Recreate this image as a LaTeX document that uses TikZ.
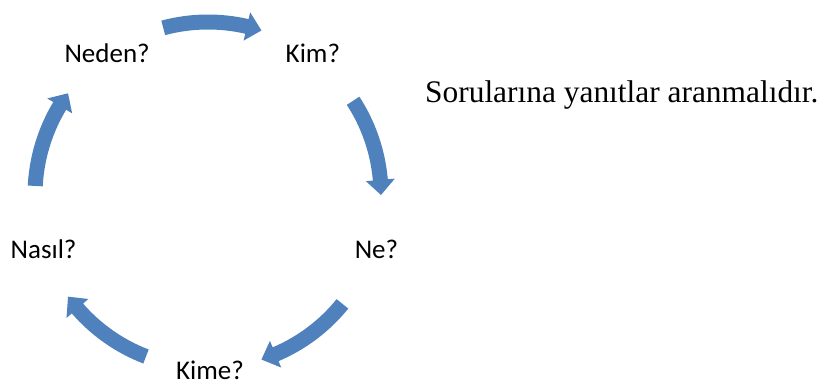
\documentclass[tikz,border=0pt]{standalone}
\usepackage{fontspec}
\setmainfont{Liberation Serif}
\newfontfamily\calibri{Carlito}
\definecolor{cycblue}{RGB}{79,129,189}
\tikzset{
  lbl/.style={font=\calibri\fontsize{27}{30}\selectfont, inner sep=0pt},
  cycarrow/.style={fill=cycblue, draw=none}
}
\begin{document}
\begin{tikzpicture}[x=1pt, y=1pt]
\useasboundingbox (0,0) rectangle (828,385);
\coordinate (o) at (210,190);
\coordinate (c) at (208,190);

\foreach \a/\t/\n in {54/Kim?/kim, -18/Ne?/ne, -90/Kime?/kime, 198/Nasıl?/nasil, 126/Neden?/neden}
{
    \node[lbl] (\n) at ([shift={(\a:175)}]o) {\t};
}
\foreach \a in {90,18,-54,-126,162}
{
    \fill[cycarrow, shift={(c)}] (\a+15:180.5) arc[start angle=\a+15, end angle=\a-13, radius=180.5]
      -- (\a-13:187.5) -- (\a-18:173) -- (\a-13:158.5) -- (\a-13:165.5)
      arc[start angle=\a-13, end angle=\a+15, radius=165.5] -- cycle;
}
\node[anchor=base west, inner sep=0pt, font=\fontsize{31.4}{36}\selectfont] (soru) at (425,282) {Sorularına yanıtlar aranmalıdır.};
\end{tikzpicture}
\end{document}
